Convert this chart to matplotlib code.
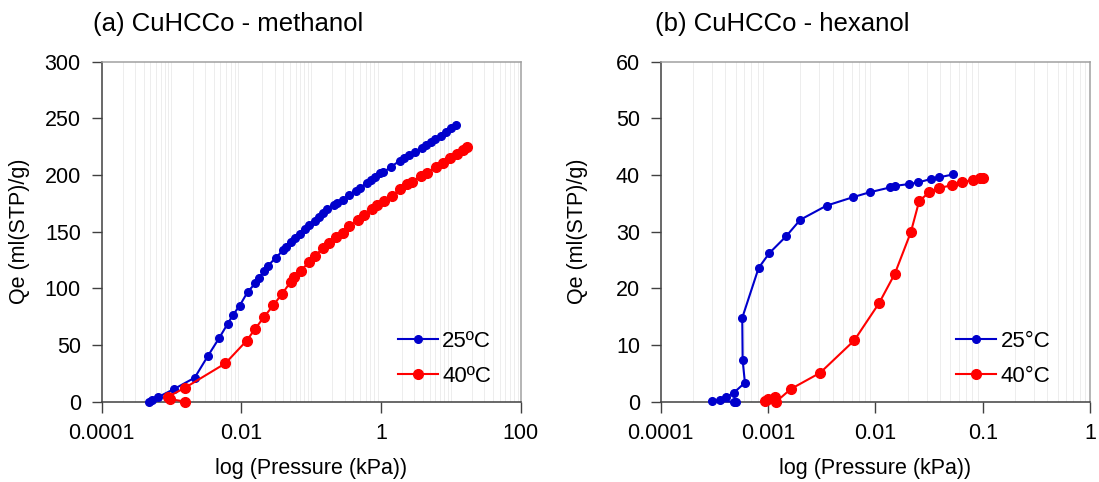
import numpy as np
import matplotlib
matplotlib.use("Agg")
import matplotlib.pyplot as plt
from matplotlib.ticker import LogLocator, NullFormatter, FixedLocator, FixedFormatter

plt.rcParams['font.family'] = ['Liberation Sans', 'DejaVu Sans']

# ---- (a) CuHCCo - methanol ----
meoh_25_p = [4.80e-4, 5.24e-4, 6.31e-4, 1.09e-3, 2.15e-3, 3.34e-3, 4.85e-3, 6.38e-3,
             7.52e-3, 9.46e-3, 0.0123, 0.0158, 0.0181, 0.0211, 0.0238, 0.0309, 0.0394,
             0.0440, 0.0513, 0.0585, 0.0689, 0.0804, 0.0935, 0.114, 0.130, 0.147, 0.169,
             0.213, 0.235, 0.283, 0.345, 0.440, 0.507, 0.624, 0.719, 0.830, 0.968, 1.079,
             1.406, 1.849, 2.133, 2.512, 3.09, 3.81, 4.45, 5.24, 5.97, 7.28, 8.57, 10.1, 11.7]
meoh_25_q = [0, 1.5, 3.8, 11.2, 21.2, 40.6, 56.5, 68.8, 76.2, 84.7, 96.8, 104.4, 109.4,
             115.3, 119.7, 126.8, 133.5, 136.8, 140.6, 144.1, 147.9, 152.4, 155.9, 159.7,
             163.2, 166.2, 169.7, 173.2, 175.0, 177.9, 182.1, 186.2, 188.8, 193.2, 195.9,
             198.5, 201.5, 202.4, 207.4, 212.6, 214.7, 217.6, 220.6, 223.5, 226.2, 229.1,
             231.5, 234.7, 238.2, 241.2, 243.8]

meoh_40_p = [1.57e-3, 9.46e-4, 8.95e-4, 1.57e-3, 5.90e-3, 0.0119, 0.0158, 0.0213, 0.0286,
             0.0381, 0.0507, 0.0571, 0.0705, 0.0935, 0.113, 0.148, 0.181, 0.230, 0.281,
             0.353, 0.469, 0.578, 0.752, 0.877, 1.117, 1.435, 1.866, 2.350, 2.742, 3.767,
             4.592, 6.039, 7.603, 9.772, 12.05, 14.83, 17.30]
meoh_40_q = [0, 2.4, 4.4, 12.4, 33.8, 53.8, 64.4, 75.0, 85.0, 95.0, 105.6, 109.7, 115.6,
             123.2, 128.5, 135.6, 139.7, 145.3, 149.1, 154.7, 160.3, 164.4, 169.7, 173.2,
             177.4, 181.8, 187.4, 191.8, 193.8, 199.4, 202.1, 206.8, 210.3, 214.7, 218.2,
             222.1, 224.7]

# ---- (b) CuHCCo - hexanol ----
hex_25_p = [5.02e-4, 4.81e-4, 2.99e-4, 3.56e-4, 4.06e-4, 4.81e-4, 6.09e-4, 5.80e-4, 5.75e-4,
            8.17e-4, 1.026e-3, 1.476e-3, 1.995e-3, 3.51e-3, 6.21e-3, 8.83e-3, 0.01364,
            0.0154, 0.0205, 0.0251, 0.0329, 0.0393, 0.053]
hex_25_q = [0, 0, 0.1, 0.3, 0.8, 1.6, 3.35, 7.3, 14.8, 23.6, 26.2, 29.2, 32.1, 34.6, 36.1,
            36.95, 37.8, 38.1, 38.4, 38.7, 39.3, 39.6, 40.1]

hex_40_p = [9.35e-4, 1.005e-3, 1.16e-3, 1.19e-3, 1.63e-3, 3.06e-3, 6.35e-3, 0.01084, 0.0152,
            0.0214, 0.0256, 0.0317, 0.0393, 0.0515, 0.0635, 0.0804, 0.094, 0.101]
hex_40_q = [0.18, 0.42, 0.88, 0, 2.24, 5.1, 10.8, 17.4, 22.6, 29.9, 35.4, 36.95, 37.7,
            38.2, 38.7, 39.1, 39.4, 39.4]

titles = ["(a) CuHCCo - methanol", "(b) CuHCCo - hexanol"]
xlabel = "log (Pressure (kPa))"
ylabel = "Qe (ml(STP)/g)"
xticks_a = [1e-4, 1e-2, 1, 100]
xticklabels_a = ["0.0001", "0.01", "1", "100"]
xticks_b = [1e-4, 1e-3, 1e-2, 1e-1, 1]
xticklabels_b = ["0.0001", "0.001", "0.01", "0.1", "1"]
yticks_a = [0, 50, 100, 150, 200, 250, 300]
yticks_b = [0, 10, 20, 30, 40, 50, 60]
legend_a = ["25ºC", "40ºC"]
legend_b = ["25°C", "40°C"]

BLUE = "#0000CC"
RED = "#FF0000"
FS = 15.5

fig = plt.figure(figsize=(10.99, 4.82), dpi=100)
ax_a = fig.add_axes([0.0925, 0.1666, 0.3813, 0.7054])
ax_b = fig.add_axes([0.6012, 0.1666, 0.3906, 0.7054])


def style_axes(ax, xticks, xlabels, yticks, xlim, ylim):
    ax.set_xscale('log')
    ax.set_xlim(*xlim)
    ax.set_ylim(*ylim)
    ax.xaxis.set_major_locator(FixedLocator(xticks))
    ax.xaxis.set_major_formatter(FixedFormatter(xlabels))
    ax.xaxis.set_minor_locator(LogLocator(base=10, subs=np.arange(1, 10), numticks=100))
    ax.xaxis.set_minor_formatter(NullFormatter())
    ax.set_yticks(yticks)
    ax.grid(True, which='minor', axis='x', color='#ededed', lw=0.7)
    ax.grid(False, which='major')
    ax.set_axisbelow(True)
    ax.tick_params(axis='x', which='major', direction='out', length=8, width=1,
                   color='#404040', labelsize=FS, pad=7)
    ax.tick_params(axis='x', which='minor', length=0)
    ax.tick_params(axis='y', direction='out', length=7, width=1, color='#404040',
                   labelsize=FS, pad=8)
    for side in ('left', 'bottom'):
        ax.spines[side].set_color('#404040')
        ax.spines[side].set_linewidth(1.1)
    for side in ('top', 'right'):
        ax.spines[side].set_color('#a0a0a0')
        ax.spines[side].set_linewidth(1.1)
    ax.set_xlabel(xlabel, fontsize=FS)
    ax.set_ylabel(ylabel, fontsize=FS)
    ax.xaxis.set_label_coords(0.5, -0.165)


style_axes(ax_a, xticks_a, xticklabels_a, yticks_a, (1e-4, 100), (0, 300))
style_axes(ax_b, xticks_b, xticklabels_b, yticks_b, (1e-4, 1), (0, 60))
ax_a.yaxis.set_label_coords(-0.171, 0.5)
ax_b.yaxis.set_label_coords(-0.169, 0.5)

ax_a.plot(meoh_25_p, meoh_25_q, '-o', color=BLUE, lw=1.5, ms=5.5, label=legend_a[0],
          clip_on=False, zorder=3)
ax_a.plot(meoh_40_p, meoh_40_q, '-o', color=RED, lw=1.5, ms=7, label=legend_a[1],
          clip_on=False, zorder=3)
ax_b.plot(hex_25_p, hex_25_q, '-o', color=BLUE, lw=1.5, ms=5.5, label=legend_b[0],
          clip_on=False, zorder=3)
ax_b.plot(hex_40_p, hex_40_q, '-o', color=RED, lw=1.5, ms=7, label=legend_b[1],
          clip_on=False, zorder=3)

for ax, x0 in ((ax_a, 0.707), (ax_b, 0.688)):
    ax.legend(loc='lower left', bbox_to_anchor=(x0, 0.043), frameon=False, fontsize=16,
              borderpad=0, borderaxespad=0, handlelength=1.8, handletextpad=0.2,
              labelspacing=0.65, numpoints=1)

fig.text(0.0846, 0.950, titles[0], fontsize=18.5, ha='left', va='center')
fig.text(0.596, 0.950, titles[1], fontsize=18.5, ha='left', va='center')

fig.savefig("out.png", dpi=100, facecolor='white')
